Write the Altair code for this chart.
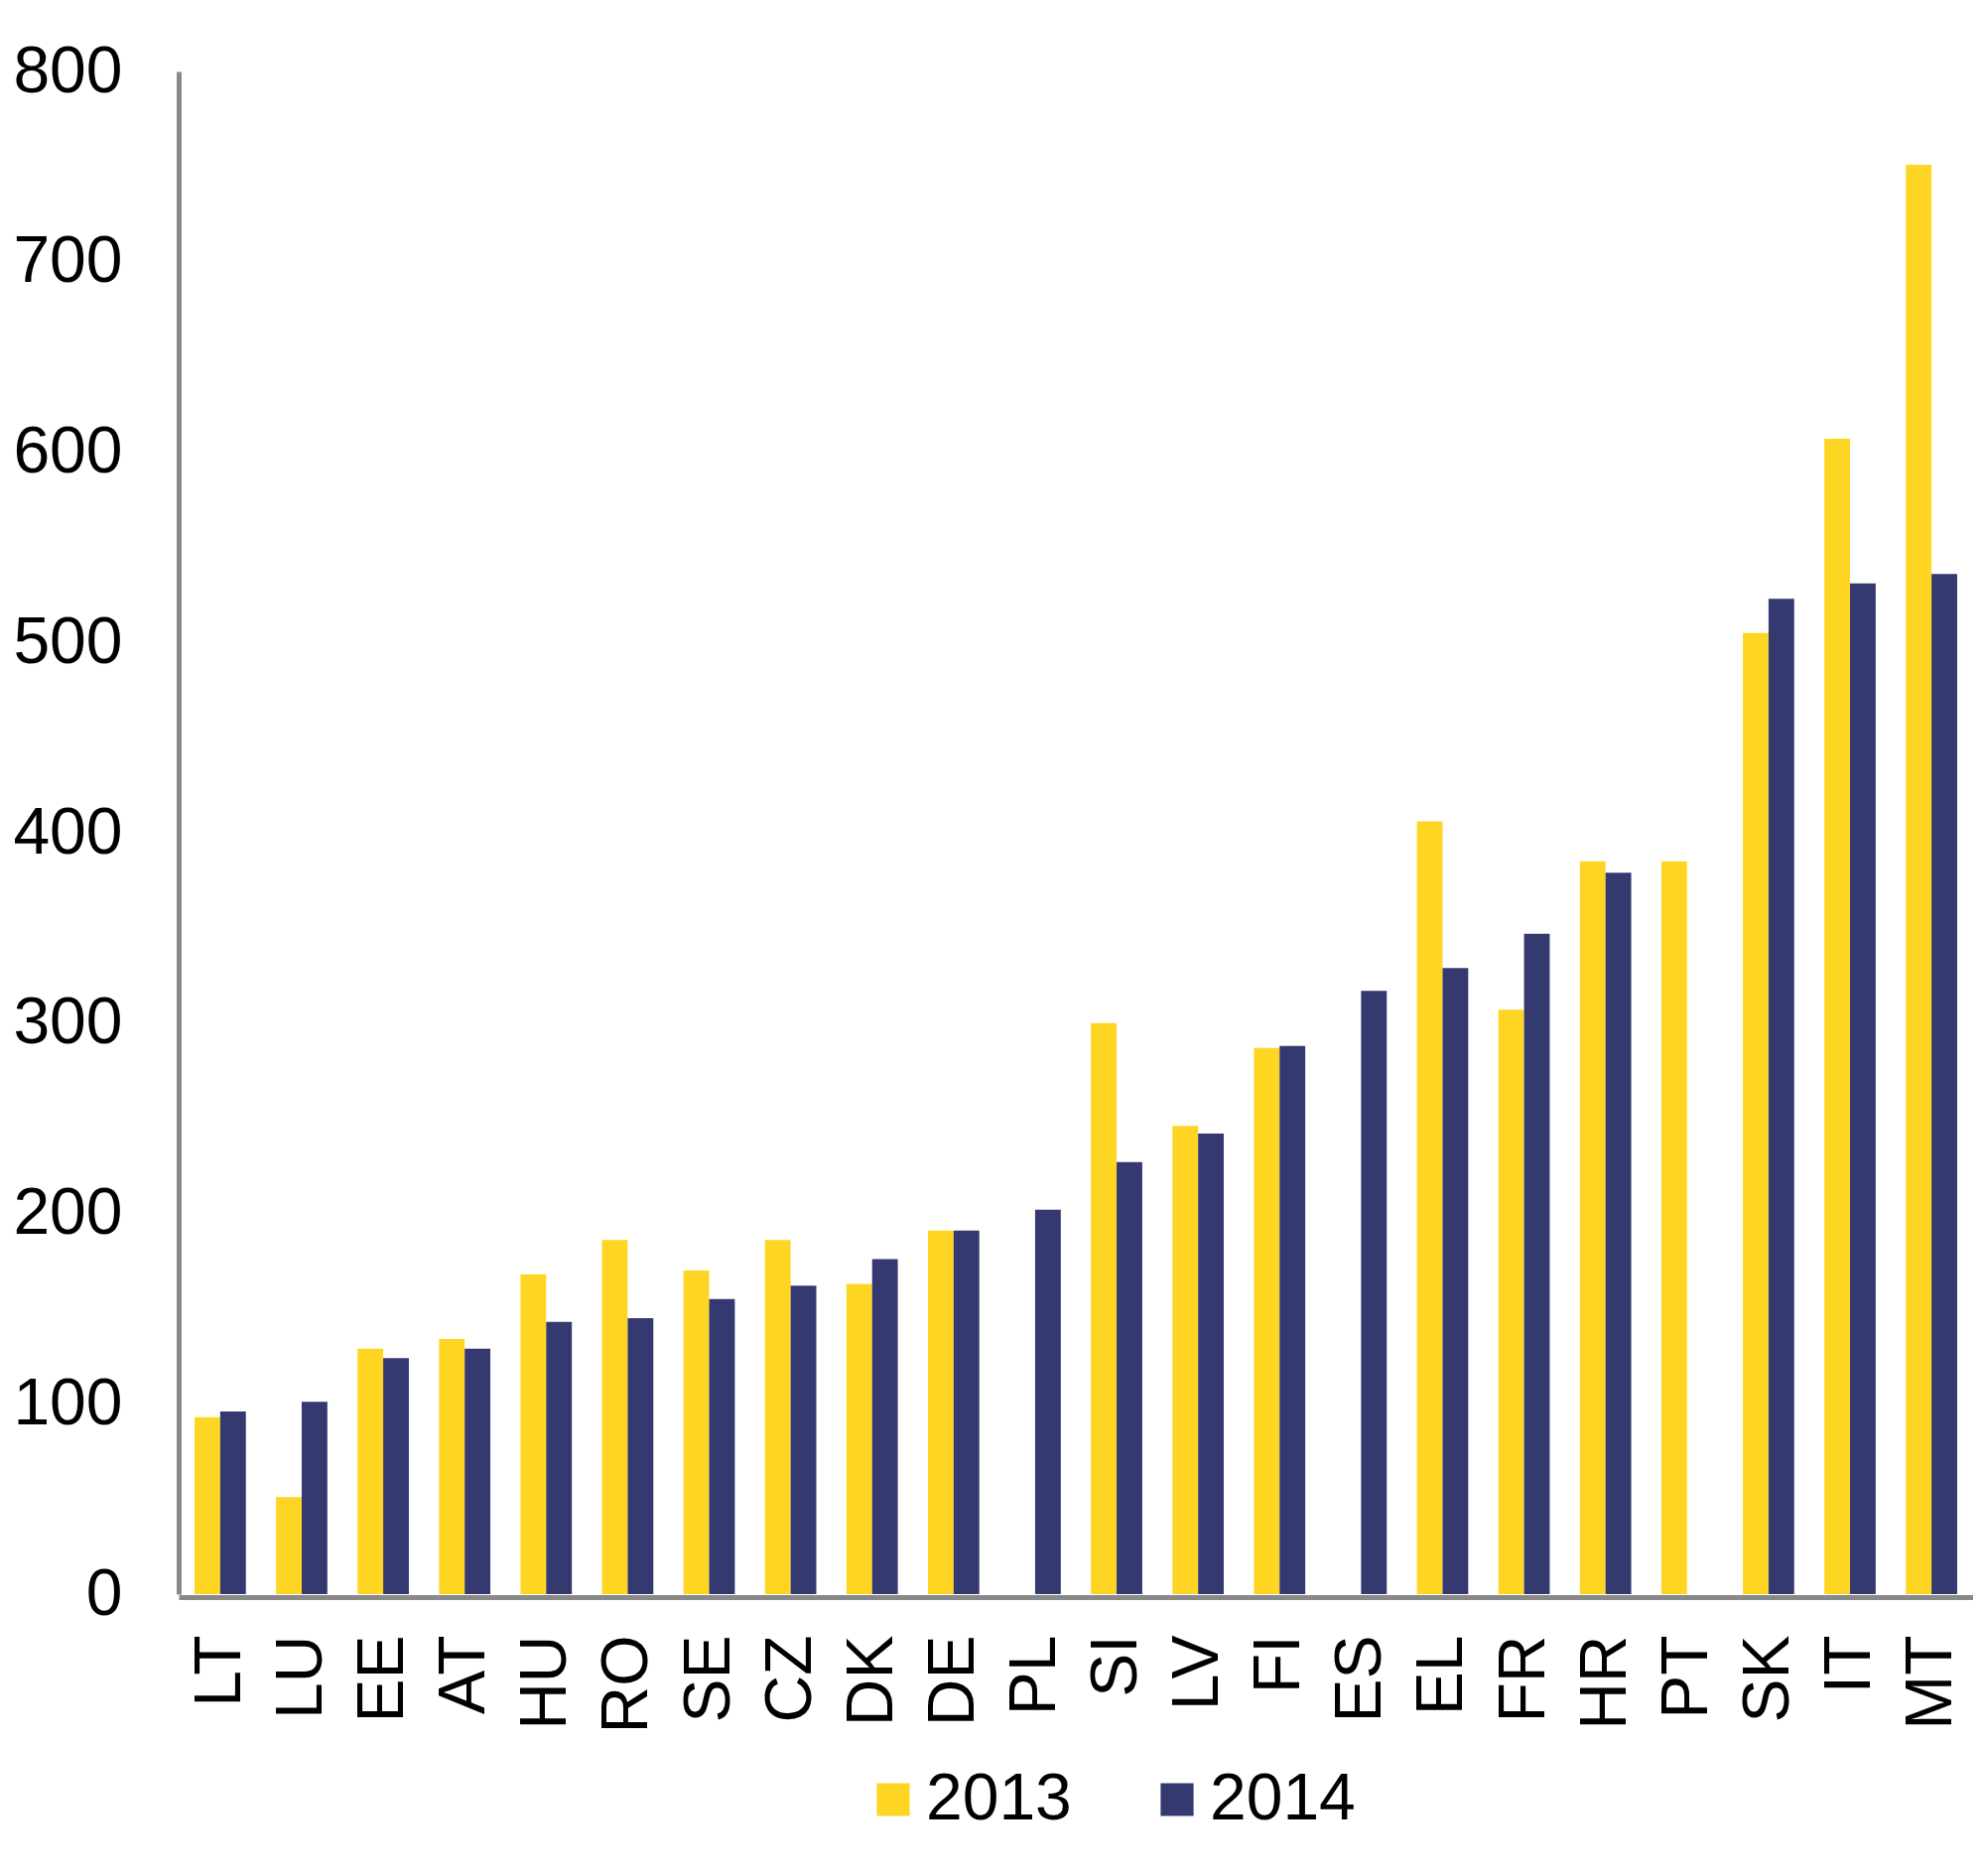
import altair as alt
import pandas as pd

countries = ["LT", "LU", "EE", "AT", "HU", "RO", "SE", "CZ", "DK", "DE", "PL",
             "SI", "LV", "FI", "ES", "EL", "FR", "HR", "PT", "SK", "IT", "MT"]
v2013 = [93, 51, 129, 134, 168, 186, 170, 186, 163, 191, None,
         300, 246, 287, None, 406, 307, 385, 385, 505, 607, 751]
v2014 = [96, 101, 124, 129, 143, 145, 155, 162, 176, 191, 202,
         227, 242, 288, 317, 329, 347, 379, None, 523, 531, 536]
years = ["2013", "2014"]
colors = ["#FFD524", "#343A70"]
y_ticks = [0, 100, 200, 300, 400, 500, 600, 700, 800]

rows = []
for c, a, b in zip(countries, v2013, v2014):
    if a is not None:
        rows.append({"country": c, "year": "2013", "value": a})
    if b is not None:
        rows.append({"country": c, "year": "2014", "value": b})
df = pd.DataFrame(rows)

FONT = "Liberation Sans"
AXIS_GRAY = "#898989"

chart = alt.Chart(df).mark_bar().encode(
    x=alt.X(
        "country:N",
        sort=countries,
        scale=alt.Scale(paddingInner=0.37, paddingOuter=0.195),
        axis=alt.Axis(
            title=None, labelAngle=-90, labelAlign="right", labelBaseline="middle",
            labelFontSize=66, labelFont=FONT, labelColor="black", labelPadding=38,
            labelOverlap=False, domainColor=AXIS_GRAY, domainWidth=5, ticks=False,
            offset=3,
        ),
    ),
    xOffset=alt.XOffset("year:N", sort=years, scale=alt.Scale(paddingInner=0, paddingOuter=0)),
    y=alt.Y(
        "value:Q",
        scale=alt.Scale(domain=[0, 800], nice=False),
        axis=alt.Axis(
            title=None, values=y_ticks, grid=False, ticks=False,
            labelFontSize=66, labelFont=FONT, labelColor="black", labelPadding=57,
            domainColor=AXIS_GRAY, domainWidth=5,
        ),
    ),
    color=alt.Color(
        "year:N",
        scale=alt.Scale(domain=years, range=colors),
        legend=alt.Legend(
            title=None, orient="none", legendX=687, legendY=1708, direction="horizontal",
            symbolType="square", symbolSize=1100, symbolStrokeWidth=0,
            labelFontSize=66, labelFont=FONT, labelColor="black", labelOffset=0,
            columnPadding=73, padding=0,
        ),
    ),
).properties(
    width=1808,
    height=1534,
    autosize=alt.AutoSizeParams(type="none"),
    padding={"left": 172, "top": 64, "right": 0, "bottom": 270},
).configure(background="white").configure_view(stroke=None)

chart.save("out.html", embed_options={"renderer": "svg", "actions": False})
